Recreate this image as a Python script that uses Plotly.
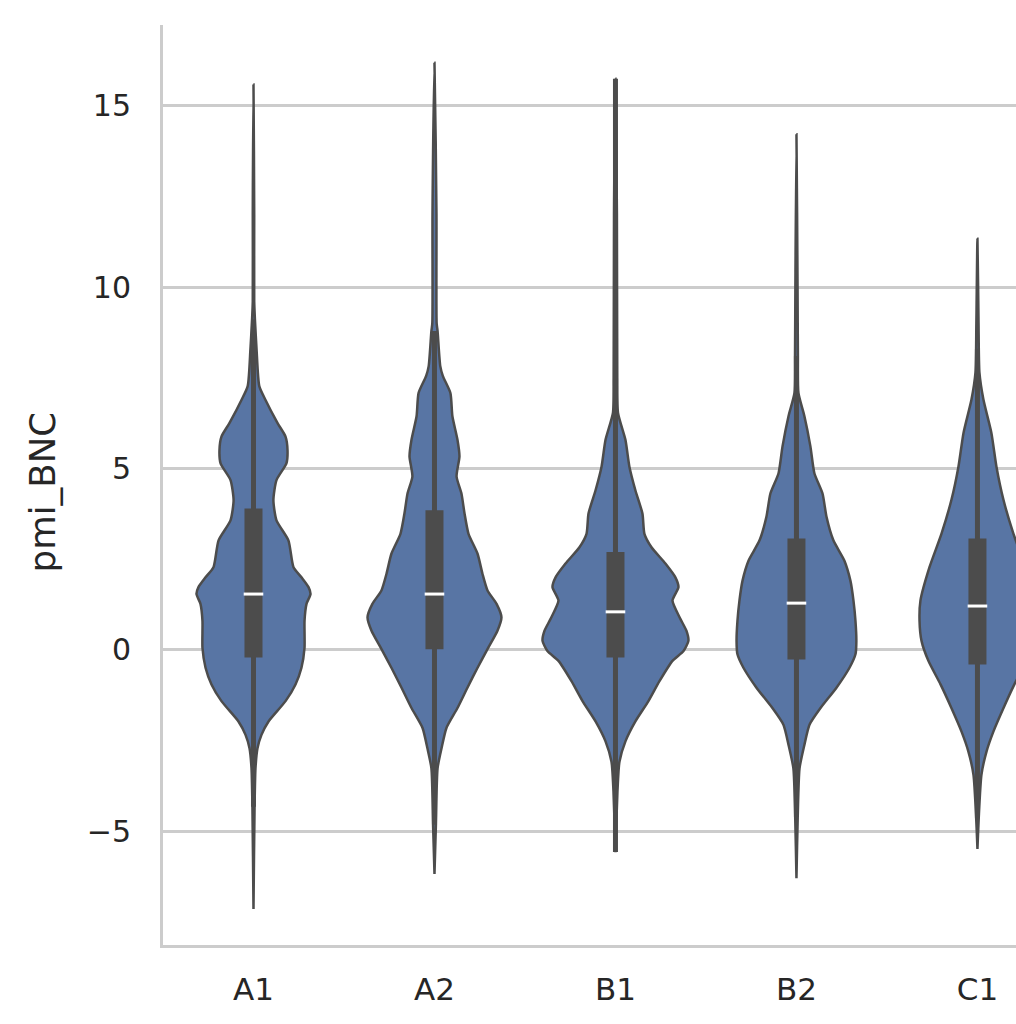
import plotly.graph_objects as go

categories = ["A1", "A2", "B1", "B2", "C1"]

# violin density profiles (value, half-width as fraction of category slot)
A1_values = [15.58, 12.0, 9.6, 9.1, 8.28, 7.27, 6.90, 6.25, 5.88, 5.51, 5.14, 4.68, 4.13, 3.57, 3.02, 2.28, 2.00, 1.73, 1.54, 1.27, 0.80, 0.06, -0.49, -0.95, -1.41, -1.97, -2.34, -2.71, -3.26, -4.3, -7.14]
A1_density = [0, .004, .004, .008, .017, .032, .065, .133, .177, .188, .182, .127, .110, .127, .193, .221, .265, .304, .315, .293, .282, .282, .265, .232, .177, .083, .044, .022, .011, .006, 0]

A2_values = [16.18, 12.0, 9.0, 8.79, 7.82, 7.55, 7.08, 6.44, 5.79, 5.33, 4.78, 4.31, 3.76, 3.20, 2.65, 2.10, 1.64, 1.27, 0.90, 0.53, 0.07, -0.49, -1.04, -1.60, -2.15, -2.71, -3.26, -4.8, -6.17]
A2_density = [0, .011, .012, .017, .032, .046, .088, .099, .127, .138, .122, .149, .166, .188, .238, .265, .293, .343, .370, .348, .298, .238, .182, .127, .066, .039, .017, .008, 0]

B1_values = [15.74, 12.0, 7.5, 6.53, 5.79, 5.05, 4.40, 3.76, 3.20, 2.83, 2.38, 2.00, 1.73, 1.36, 0.90, 0.53, 0.25, -0.03, -0.30, -0.86, -1.41, -1.97, -2.52, -3.08, -3.9, -5.57]
B1_density = [0, .008, .010, .014, .055, .077, .110, .149, .160, .199, .276, .331, .348, .315, .354, .392, .403, .376, .315, .243, .182, .110, .055, .022, .011, 0]

B2_values = [14.21, 10.0, 8.1, 7.08, 6.44, 5.61, 4.87, 4.31, 3.67, 3.02, 2.46, 1.91, 1.36, 0.80, 0.25, -0.12, -0.49, -1.04, -1.60, -2.06, -2.61, -3.26, -4.6, -6.29]
B2_density = [0, .006, .008, .011, .044, .077, .099, .144, .166, .204, .265, .298, .315, .326, .331, .326, .293, .221, .133, .072, .044, .017, .007, 0]

C1_values = [11.33, 9.0, 7.64, 6.90, 5.98, 5.05, 4.13, 3.20, 2.28, 1.36, 0.80, 0.25, -0.30, -0.95, -1.60, -2.25, -2.80, -3.44, -4.64, -5.48]
C1_density = [0, .006, .011, .033, .077, .105, .144, .199, .265, .315, .320, .309, .271, .204, .144, .088, .050, .022, .007, 0]

# box statistics
q1 = [-0.21, 0.02, -0.21, -0.26, -0.40]
median = [1.54, 1.54, 1.05, 1.29, 1.21]
q3 = [3.90, 3.85, 2.70, 3.07, 3.07]
whisker_low = [-4.32, -4.82, -5.57, -4.60, -4.64]
whisker_high = [9.11, 8.79, 15.74, 8.1, 8.3]

y_ticks = [-5, 0, 5, 10, 15]
y_label = "pmi_BNC"
x_label = "cefr"

profiles = [
    (A1_values, A1_density),
    (A2_values, A2_density),
    (B1_values, B1_density),
    (B2_values, B2_density),
    (C1_values, C1_density),
]

FILL = "#5875A4"
DARK = "#4c4c4c"
GRID = "#cccccc"
TEXT = "#262626"
FONT = "DejaVu Sans"

fig = go.Figure()

for i, (vals, dens) in enumerate(profiles):
    xs = [i + d for d in dens] + [i - d for d in reversed(dens)]
    ys = list(vals) + list(reversed(vals))
    fig.add_trace(go.Scatter(
        x=xs, y=ys, mode="lines", fill="toself", fillcolor=FILL,
        line=dict(color=DARK, width=2.5, shape="spline", smoothing=0.6),
        hoverinfo="skip", showlegend=False,
    ))

wx, wy = [], []
bx, by = [], []
for i in range(len(categories)):
    wx += [i, i, None]
    wy += [whisker_low[i], whisker_high[i], None]
    bx += [i, i, None]
    by += [q1[i], q3[i], None]

fig.add_trace(go.Scatter(x=wx, y=wy, mode="lines", line=dict(color=DARK, width=5),
                         hoverinfo="skip", showlegend=False))
fig.add_trace(go.Scatter(x=bx, y=by, mode="lines", line=dict(color=DARK, width=18),
                         hoverinfo="skip", showlegend=False))
fig.add_trace(go.Scatter(x=list(range(len(categories))), y=median, mode="markers",
                         marker=dict(symbol="line-ew", size=14, line=dict(color="white", width=3)),
                         hoverinfo="skip", showlegend=False))

fig.update_layout(
    width=1016, height=1024,
    margin=dict(l=163, r=0, t=25, b=79),
    paper_bgcolor="white", plot_bgcolor="white",
    font=dict(family=FONT, color=TEXT),
    xaxis=dict(
        tickmode="array", tickvals=list(range(len(categories))), ticktext=categories,
        range=[-0.5, 4.213], showgrid=False, zeroline=False,
        showline=True, linecolor=GRID, linewidth=3,
        ticks="outside", ticklen=15, tickcolor="rgba(0,0,0,0)",
        tickfont=dict(family=FONT, size=31, color=TEXT),
    ),
    yaxis=dict(
        tickmode="array", tickvals=y_ticks,
        range=[-8.13, 17.22], showgrid=True, gridcolor=GRID, gridwidth=2.5,
        zeroline=False, showline=True, linecolor=GRID, linewidth=3,
        ticks="outside", ticklen=23, tickcolor="rgba(0,0,0,0)",
        tickfont=dict(family=FONT, size=30, color=TEXT),
    ),
    annotations=[
        dict(text=y_label, textangle=-90, xref="paper", yref="paper",
             x=-0.1418, y=0.492, xanchor="center", yanchor="middle",
             showarrow=False, font=dict(family=FONT, size=35.5, color=TEXT)),
        dict(text=x_label, xref="x", yref="paper", x=2, y=-0.0783,
             xanchor="center", yanchor="top", showarrow=False,
             font=dict(family=FONT, size=35, color=TEXT)),
    ],
)

fig.write_html("out.html", config={"displayModeBar": False},
               post_script="document.body.style.margin='0';document.body.style.overflow='hidden';")
